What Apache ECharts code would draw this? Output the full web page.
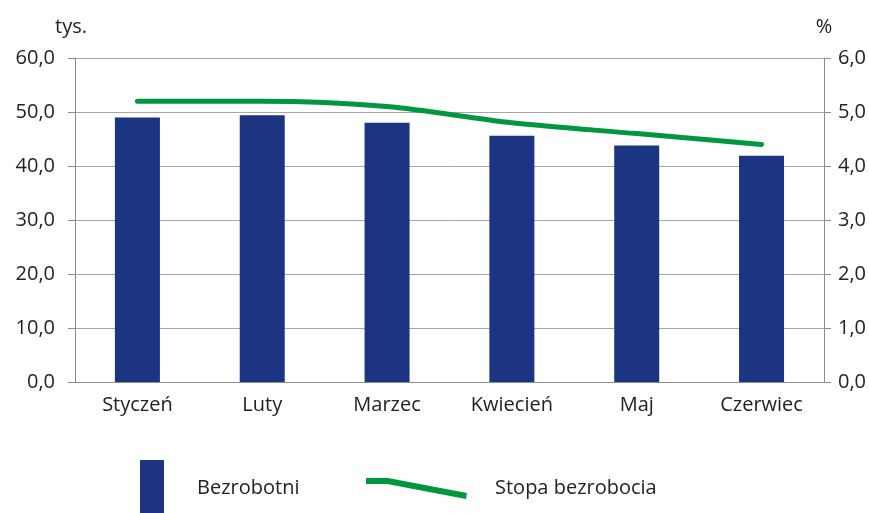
<!DOCTYPE html>
<html>
  <head>
      <meta charset="utf-8">
      <script src="https://cdn.jsdelivr.net/npm/echarts@6/dist/echarts.min.js"></script>
  </head>
  <body style="margin:0">
    <div id="main" style="width: 869px;height:513px;"></div>
    <script type="text/javascript">
        var months = ['Styczeń', 'Luty', 'Marzec', 'Kwiecień', 'Maj', 'Czerwiec'];
        // thousands of unemployed
        var bezrobotni = [49.0, 49.4, 48.0, 45.6, 43.8, 41.9];
        // unemployment rate, %
        var stopa = [5.2, 5.2, 5.1, 4.8, 4.6, 4.4];

        var myChart = echarts.init(document.getElementById('main'));

        var fmt = function (v) { return v.toFixed(1).replace('.', ','); };
        var font = 'Open Sans';
        var gray = '#8c8c8c';
        var txt = '#222';

        var option = {
            backgroundColor: '#fff',
            animation: false,
            textStyle: { fontFamily: font },
            grid: { left: 75, right: 45, top: 58, bottom: 131 },
            legend: [{
                data: [{ name: 'Bezrobotni', icon: 'rect' }],
                left: 140,
                top: 460,
                padding: 0,
                itemWidth: 24,
                itemHeight: 56,
                textStyle: { fontSize: 20, color: txt, fontFamily: font, padding: [0, 0, 0, 28] }
            }, {
                data: [{ name: 'Stopa bezrobocia', icon: 'path://M0,0 L22,0 L101,15 L100,21 L21,6 L0,6 Z' }],
                left: 366,
                top: 478,
                padding: 0,
                itemWidth: 101,
                itemHeight: 21,
                itemStyle: { borderWidth: 0 },
                textStyle: { fontSize: 20, color: txt, fontFamily: font, padding: [0, 0, 0, 23] }
            }],
            xAxis: {
                type: 'category',
                data: months,
                axisTick: { show: false },
                axisLine: { lineStyle: { color: gray, width: 1 } },
                axisLabel: { fontSize: 20, color: txt, margin: 13, fontFamily: font }
            },
            yAxis: [{
                type: 'value',
                min: 0,
                max: 60,
                interval: 10,
                name: 'tys.',
                nameGap: 21,
                nameTextStyle: { fontSize: 20, color: txt, fontFamily: font, padding: [0, 8, 0, 0] },
                axisLine: { show: true, lineStyle: { color: gray } },
                axisTick: { show: true, length: 7, lineStyle: { color: gray } },
                splitLine: { lineStyle: { color: '#a6a6a6' } },
                axisLabel: { fontSize: 20, color: txt, margin: 20, formatter: fmt, fontFamily: font }
            }, {
                type: 'value',
                min: 0,
                max: 6,
                interval: 1,
                name: '%',
                nameGap: 21,
                nameTextStyle: { fontSize: 20, color: txt, fontFamily: font },
                axisLine: { show: true, lineStyle: { color: gray } },
                axisTick: { show: true, length: 7, lineStyle: { color: gray } },
                splitLine: { show: false },
                axisLabel: { fontSize: 20, color: txt, margin: 14, formatter: fmt, fontFamily: font }
            }],
            series: [{
                name: 'Bezrobotni',
                type: 'bar',
                data: bezrobotni,
                barWidth: 45,
                itemStyle: { color: '#1b3583' }
            }, {
                name: 'Stopa bezrobocia',
                type: 'line',
                yAxisIndex: 1,
                data: stopa,
                smooth: 0.3,
                symbol: 'none',
                lineStyle: { color: '#00973f', width: 5, cap: 'round' },
                itemStyle: { color: '#00973f' }
            }]
        };
        myChart.setOption(option);
    </script>
  </body>
</html>
